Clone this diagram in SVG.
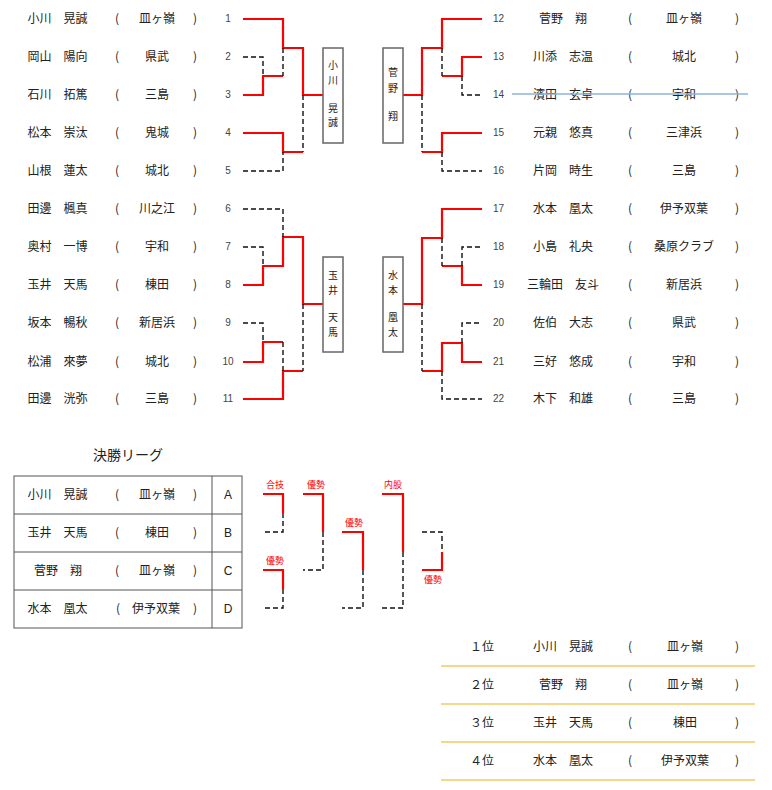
<svg xmlns="http://www.w3.org/2000/svg" width="772" height="790" viewBox="0 0 772 790">
<style>
text{font-family:"Noto Sans CJK JP","Noto Sans",sans-serif;font-size:12px;fill:#222}
.m{text-anchor:middle}
.n{font-family:"Liberation Sans",Arial,sans-serif;font-size:10px;fill:#444}
.bx{font-size:10px}
.lb{font-size:9px;fill:#ff0000;text-anchor:middle}
.r{fill:none;stroke:#ff0000;stroke-width:2.2}
.d{fill:none;stroke:#111;stroke-width:1.4;stroke-dasharray:5,3}
.box{fill:#fff;stroke:#666;stroke-width:1.5}
.tb{fill:none;stroke:#555;stroke-width:1}
.gl{stroke:#f4d78a;stroke-width:2}
</style>
<rect width="772" height="790" fill="#fff"/>

<g id="connectors">
<path class="r" d="M243,19H283V48H303V95H323"/>
<path class="r" d="M243,95H263V76H283"/>
<path class="r" d="M243,133H283V152H303"/>
<path class="d" d="M243,57H263V76"/>
<path class="d" d="M283,48V76"/>
<path class="d" d="M243,171H283V152"/>
<path class="d" d="M303,95V152"/>
<path class="r" d="M243,285H263V266H283V237H303V304H323"/>
<path class="r" d="M243,362H263V342H283"/>
<path class="r" d="M243,399H283V371H303"/>
<path class="d" d="M243,209H283V237"/>
<path class="d" d="M243,247H263V266"/>
<path class="d" d="M243,323H263V342"/>
<path class="d" d="M283,342V371"/>
<path class="d" d="M303,304V371"/>
<path class="r" d="M402,95H422V48H442V19H482"/>
<path class="r" d="M442,76H462V57H482"/>
<path class="r" d="M422,152H442V133H482"/>
<path class="d" d="M442,48V76"/>
<path class="d" d="M462,76V95H482"/>
<path class="d" d="M422,95V152"/>
<path class="d" d="M442,152V171H482"/>
<path class="r" d="M402,304H422V238H442V209H482"/>
<path class="r" d="M442,266H462V285H482"/>
<path class="r" d="M422,371H442V343H462V362H482"/>
<path class="d" d="M442,238V266"/>
<path class="d" d="M462,266V247H482"/>
<path class="d" d="M422,304V371"/>
<path class="d" d="M462,343V323H482"/>
<path class="d" d="M442,371V399H482"/>
<path class="r" d="M263,494H283V513"/>
<path class="d" d="M283,513V532H263"/>
<path class="r" d="M303,494H323V532"/>
<path class="d" d="M323,532V570H303"/>
<path class="r" d="M263,570H283V589"/>
<path class="d" d="M283,589V608H263"/>
<path class="r" d="M342,532H363V570"/>
<path class="d" d="M363,570V608H342"/>
<path class="r" d="M382,494H403V552"/>
<path class="d" d="M403,552V608H382"/>
<path class="d" d="M422,532H442V552"/>
<path class="r" d="M442,552V570H422"/>
</g>

<g id="left-players">
<g id="p1"><text class="m" x="57.5" y="23">小川　晃誠</text><text class="m" x="117" y="23">(</text><text class="m" x="157" y="23">皿ヶ嶺</text><text class="m" x="195" y="23">)</text><text class="n m" x="228" y="22">1</text></g>
<g id="p2"><text class="m" x="57.5" y="61">岡山　陽向</text><text class="m" x="117" y="61">(</text><text class="m" x="157" y="61">県武</text><text class="m" x="195" y="61">)</text><text class="n m" x="228" y="60">2</text></g>
<g id="p3"><text class="m" x="57.5" y="99">石川　拓篤</text><text class="m" x="117" y="99">(</text><text class="m" x="157" y="99">三島</text><text class="m" x="195" y="99">)</text><text class="n m" x="228" y="98">3</text></g>
<g id="p4"><text class="m" x="57.5" y="137">松本　崇汰</text><text class="m" x="117" y="137">(</text><text class="m" x="157" y="137">鬼城</text><text class="m" x="195" y="137">)</text><text class="n m" x="228" y="136">4</text></g>
<g id="p5"><text class="m" x="57.5" y="175">山根　蓮太</text><text class="m" x="117" y="175">(</text><text class="m" x="157" y="175">城北</text><text class="m" x="195" y="175">)</text><text class="n m" x="228" y="174">5</text></g>
<g id="p6"><text class="m" x="57.5" y="213">田邊　楓真</text><text class="m" x="117" y="213">(</text><text class="m" x="157" y="213">川之江</text><text class="m" x="195" y="213">)</text><text class="n m" x="228" y="212">6</text></g>
<g id="p7"><text class="m" x="57.5" y="251">奥村　一博</text><text class="m" x="117" y="251">(</text><text class="m" x="157" y="251">宇和</text><text class="m" x="195" y="251">)</text><text class="n m" x="228" y="250">7</text></g>
<g id="p8"><text class="m" x="57.5" y="289">玉井　天馬</text><text class="m" x="117" y="289">(</text><text class="m" x="157" y="289">棟田</text><text class="m" x="195" y="289">)</text><text class="n m" x="228" y="288">8</text></g>
<g id="p9"><text class="m" x="57.5" y="327">坂本　暢秋</text><text class="m" x="117" y="327">(</text><text class="m" x="157" y="327">新居浜</text><text class="m" x="195" y="327">)</text><text class="n m" x="228" y="326">9</text></g>
<g id="p10"><text class="m" x="57.5" y="366">松浦　來夢</text><text class="m" x="117" y="366">(</text><text class="m" x="157" y="366">城北</text><text class="m" x="195" y="366">)</text><text class="n m" x="228" y="365">10</text></g>
<g id="p11"><text class="m" x="57.5" y="403">田邊　洸弥</text><text class="m" x="117" y="403">(</text><text class="m" x="157" y="403">三島</text><text class="m" x="195" y="403">)</text><text class="n m" x="228" y="402">11</text></g>
</g>

<g id="right-players">
<g id="p12"><text class="n" x="493" y="22">12</text><text class="m" x="563" y="23">菅野　翔</text><text class="m" x="630" y="23">(</text><text class="m" x="684" y="23">皿ヶ嶺</text><text class="m" x="737" y="23">)</text></g>
<g id="p13"><text class="n" x="493" y="60">13</text><text class="m" x="563" y="61">川添　志温</text><text class="m" x="630" y="61">(</text><text class="m" x="684" y="61">城北</text><text class="m" x="737" y="61">)</text></g>
<g id="p14"><text class="n" x="493" y="98">14</text><text class="m" x="563" y="99">濱田　玄卓</text><text class="m" x="630" y="99">(</text><text class="m" x="684" y="99">宇和</text><text class="m" x="737" y="99">)</text></g>
<g id="p15"><text class="n" x="493" y="136">15</text><text class="m" x="563" y="137">元親　悠真</text><text class="m" x="630" y="137">(</text><text class="m" x="684" y="137">三津浜</text><text class="m" x="737" y="137">)</text></g>
<g id="p16"><text class="n" x="493" y="174">16</text><text class="m" x="563" y="175">片岡　時生</text><text class="m" x="630" y="175">(</text><text class="m" x="684" y="175">三島</text><text class="m" x="737" y="175">)</text></g>
<g id="p17"><text class="n" x="493" y="212">17</text><text class="m" x="563" y="213">水本　凰太</text><text class="m" x="630" y="213">(</text><text class="m" x="684" y="213">伊予双葉</text><text class="m" x="737" y="213">)</text></g>
<g id="p18"><text class="n" x="493" y="250">18</text><text class="m" x="563" y="251">小島　礼央</text><text class="m" x="630" y="251">(</text><text class="m" x="684" y="251">桑原クラブ</text><text class="m" x="737" y="251">)</text></g>
<g id="p19"><text class="n" x="493" y="288">19</text><text class="m" x="563" y="289">三輪田　友斗</text><text class="m" x="630" y="289">(</text><text class="m" x="684" y="289">新居浜</text><text class="m" x="737" y="289">)</text></g>
<g id="p20"><text class="n" x="493" y="326">20</text><text class="m" x="563" y="327">佐伯　大志</text><text class="m" x="630" y="327">(</text><text class="m" x="684" y="327">県武</text><text class="m" x="737" y="327">)</text></g>
<g id="p21"><text class="n" x="493" y="365">21</text><text class="m" x="563" y="366">三好　悠成</text><text class="m" x="630" y="366">(</text><text class="m" x="684" y="366">宇和</text><text class="m" x="737" y="366">)</text></g>
<g id="p22"><text class="n" x="493" y="402">22</text><text class="m" x="563" y="403">木下　和雄</text><text class="m" x="630" y="403">(</text><text class="m" x="684" y="403">三島</text><text class="m" x="737" y="403">)</text></g>
</g>

<line x1="512" y1="94" x2="748" y2="94" stroke="#8db5dc" stroke-width="1.5"/>

<g id="winner-a"><rect class="box" x="323" y="48" width="20" height="95"/><text class="bx m" x="333" y="69">小</text><text class="bx m" x="333" y="84">川</text><text class="bx m" x="333" y="112">晃</text><text class="bx m" x="333" y="126">誠</text></g>
<g id="winner-b"><rect class="box" x="323" y="257" width="20" height="95"/><text class="bx m" x="333" y="279">玉</text><text class="bx m" x="333" y="294">井</text><text class="bx m" x="333" y="321">天</text><text class="bx m" x="333" y="336">馬</text></g>
<g id="winner-c"><rect class="box" x="383" y="48" width="20" height="95"/><text class="bx m" x="393" y="76">菅</text><text class="bx m" x="393" y="92">野</text><text class="bx m" x="393" y="120">翔</text></g>
<g id="winner-d"><rect class="box" x="383" y="257" width="20" height="95"/><text class="bx m" x="393" y="279">水</text><text class="bx m" x="393" y="294">本</text><text class="bx m" x="393" y="321">凰</text><text class="bx m" x="393" y="336">太</text></g>

<text class="m" x="128" y="460" style="font-size:14px">決勝リーグ</text>
<g id="league-table">
<rect class="tb" x="14" y="476" width="228" height="152"/>
<line class="tb" x1="14" y1="514" x2="242" y2="514"/>
<line class="tb" x1="14" y1="552" x2="242" y2="552"/>
<line class="tb" x1="14" y1="590" x2="242" y2="590"/>
<line class="tb" x1="212" y1="476" x2="212" y2="628"/>
</g>
<g id="league-a"><text class="m" x="57.5" y="499">小川　晃誠</text><text class="m" x="117" y="499">(</text><text class="m" x="157" y="499">皿ヶ嶺</text><text class="m" x="195" y="499">)</text><text class="m" x="228" y="499" style="font-family:'Liberation Sans',sans-serif">A</text></g>
<g id="league-b"><text class="m" x="57.5" y="537">玉井　天馬</text><text class="m" x="117" y="537">(</text><text class="m" x="157" y="537">棟田</text><text class="m" x="195" y="537">)</text><text class="m" x="228" y="537" style="font-family:'Liberation Sans',sans-serif">B</text></g>
<g id="league-c"><text class="m" x="58" y="575">菅野　翔</text><text class="m" x="117" y="575">(</text><text class="m" x="157" y="575">皿ヶ嶺</text><text class="m" x="195" y="575">)</text><text class="m" x="228" y="575" style="font-family:'Liberation Sans',sans-serif">C</text></g>
<g id="league-d"><text class="m" x="57.5" y="613">水本　凰太</text><text class="m" x="118" y="613">(</text><text class="m" x="156" y="613">伊予双葉</text><text class="m" x="195" y="613">)</text><text class="m" x="228" y="613" style="font-family:'Liberation Sans',sans-serif">D</text></g>

<g id="league-labels">
<text class="lb" x="275" y="488">合技</text>
<text class="lb" x="316" y="488">優勢</text>
<text class="lb" x="275" y="564">優勢</text>
<text class="lb" x="354" y="526">優勢</text>
<text class="lb" x="393" y="488">内股</text>
<text class="lb" x="433" y="583">優勢</text>
</g>

<g id="rankings">
<g id="rank1"><text class="m" x="482" y="651">１位</text><text class="m" x="563" y="651">小川　晃誠</text><text class="m" x="630" y="651">(</text><text class="m" x="685" y="651">皿ヶ嶺</text><text class="m" x="737" y="651">)</text><line class="gl" x1="441" y1="666" x2="755" y2="666"/></g>
<g id="rank2"><text class="m" x="482" y="689">２位</text><text class="m" x="563" y="689">菅野　翔</text><text class="m" x="630" y="689">(</text><text class="m" x="685" y="689">皿ヶ嶺</text><text class="m" x="737" y="689">)</text><line class="gl" x1="441" y1="704" x2="755" y2="704"/></g>
<g id="rank3"><text class="m" x="482" y="727">３位</text><text class="m" x="563" y="727">玉井　天馬</text><text class="m" x="630" y="727">(</text><text class="m" x="685" y="727">棟田</text><text class="m" x="737" y="727">)</text><line class="gl" x1="441" y1="742" x2="755" y2="742"/></g>
<g id="rank4"><text class="m" x="482" y="765">４位</text><text class="m" x="563" y="765">水本　凰太</text><text class="m" x="630" y="765">(</text><text class="m" x="685" y="765">伊予双葉</text><text class="m" x="737" y="765">)</text><line class="gl" x1="441" y1="780" x2="755" y2="780"/></g>
</g>
</svg>
